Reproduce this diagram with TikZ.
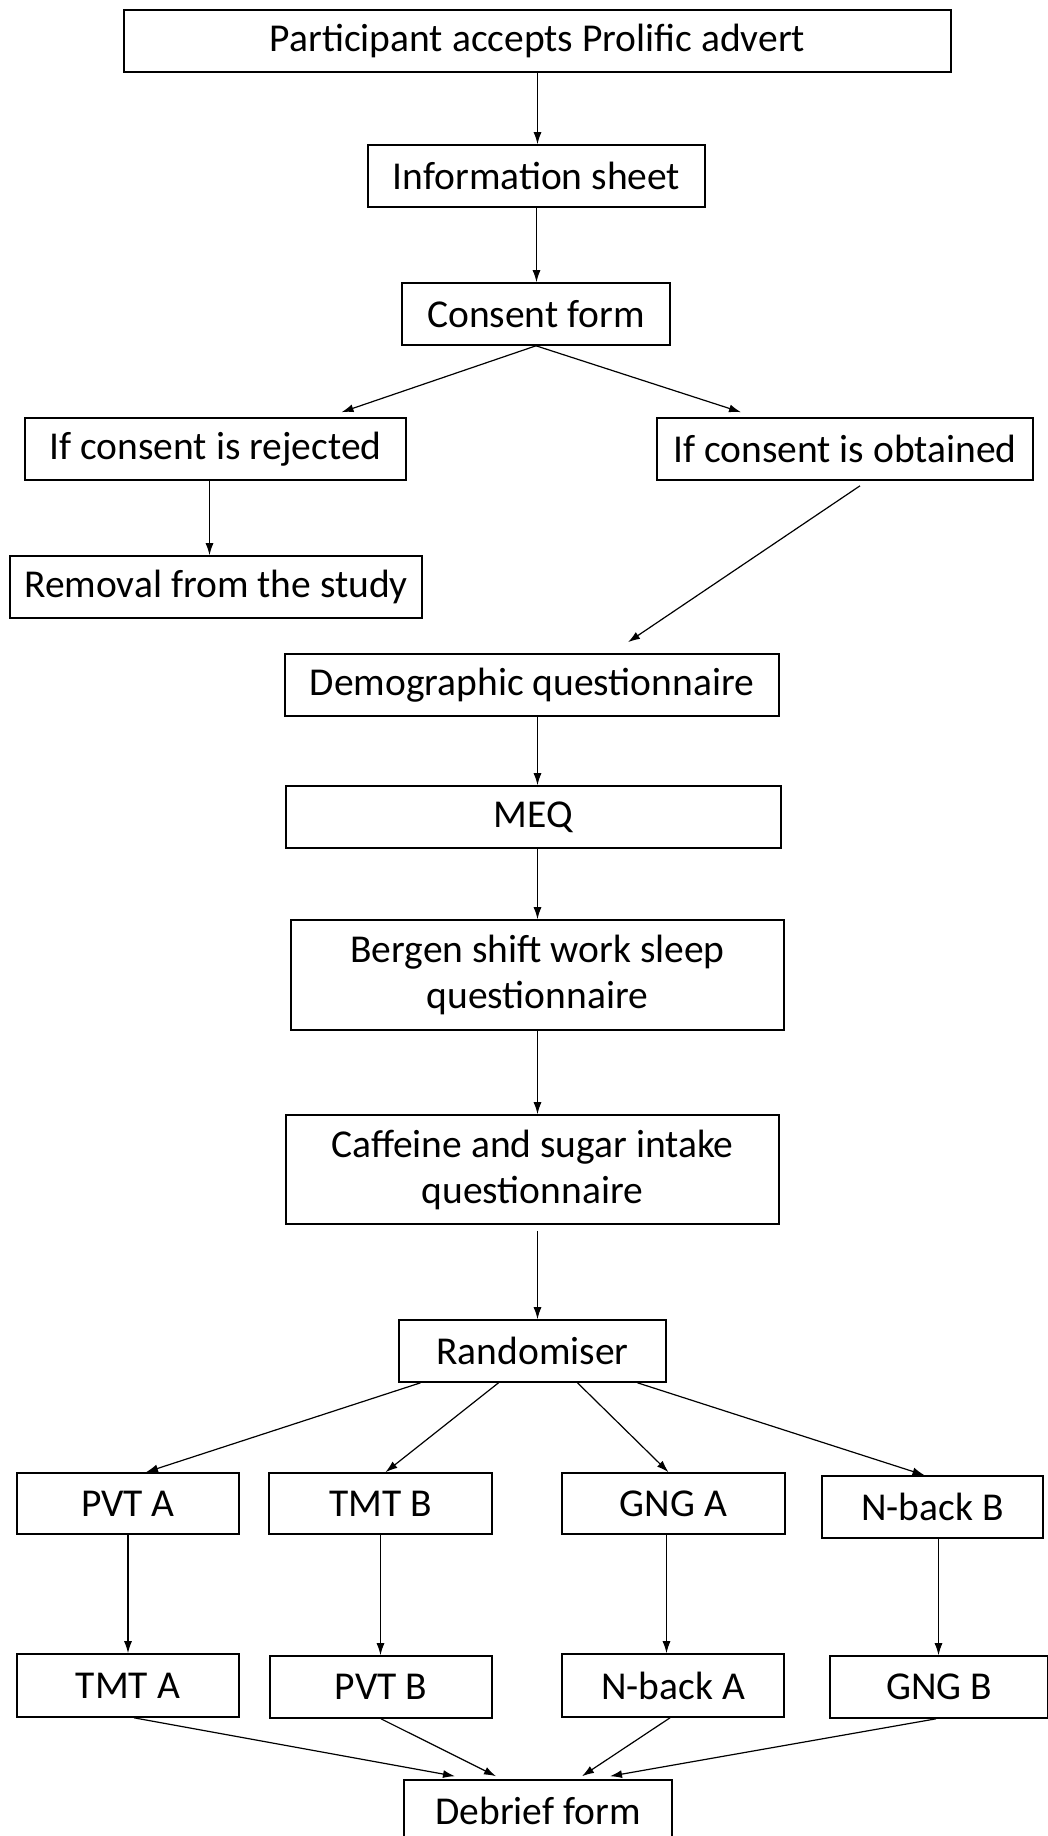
\documentclass[tikz,border=0pt]{standalone}
\usepackage{fontspec}
\setmainfont{Carlito}
\usetikzlibrary{arrows.meta}

\begin{document}
\begin{tikzpicture}[x=1pt, y=-1pt, >={Latex[length=12pt,width=8pt]},
  every node/.style={font=\fontsize{39.5}{46}\selectfont},
  box/.style={draw, line width=1.6pt, inner sep=0pt, align=center, minimum height=62pt},
  link/.style={->, line width=1.2pt}]
  \useasboundingbox (0,0) rectangle (1048,1836);
  \clip (0,0) rectangle (1048,1836);

  % gora
  \node[box, minimum width=827pt] (advert) at (537.5,41) {Participant accepts Prolific advert};
  \node[box, minimum width=337pt] (info) at (536.5,176) {Information sheet};
  \node[box, minimum width=268pt] (consent) at (536,314) {Consent form};
  \node[box, minimum width=381pt] (rejected) at (215.5,449) {If consent is rejected};
  \node[box, minimum width=376pt] (obtained) at (845,449) {If consent is obtained};
  \node[box, minimum width=412pt] (removal) at (216,587) {Removal from the study};

  % kwestionariusze
  \node[box, minimum width=494pt] (demographic) at (532,685) {Demographic questionnaire};
  \node[box, minimum width=495pt] (meq) at (533.5,817) {MEQ};
  \node[box, minimum width=493pt, minimum height=110pt] (bergen) at (537.5,975) {Bergen shift work sleep\\questionnaire};
  \node[box, minimum width=493pt, minimum height=109pt] (caffeine) at (532.5,1169.5) {Caffeine and sugar intake\\questionnaire};
  \node[box, minimum width=267pt] (randomiser) at (532.5,1351) {Randomiser};

  % testy
  \node[box, minimum width=222pt, minimum height=61pt] (pvta) at (128,1503.5) {PVT A};
  \node[box, minimum width=223pt, minimum height=61pt] (tmtb) at (380.5,1503.5) {TMT B};
  \node[box, minimum width=223pt, minimum height=61pt] (gnga) at (673.5,1503.5) {GNG A};
  \node[box, minimum width=221pt] (nbackb) at (932.5,1507) {N-back B};

  \node[box, minimum width=222pt, minimum height=63pt] (tmta) at (128,1685.5) {TMT A};
  \node[box, minimum width=222pt] (pvtb) at (381,1687) {PVT B};
  \node[box, minimum width=222pt, minimum height=63pt] (nbacka) at (673,1685.5) {N-back A};
  \node[box, minimum width=218pt] (gngb) at (939,1687) {GNG B};

  \node[box, minimum width=268pt] (debrief) at (538,1811) {Debrief form};

  \draw[link] (advert.south) -- (advert.south |- info.north);
  \draw[link] (info.south) -- (info.south |- consent.north);
  \draw[link] (consent.south) -- ([xshift=126pt,yshift=5pt]rejected.north);
  \draw[link] (consent.south) -- ([xshift=-104pt,yshift=5pt]obtained.north);
  \draw[link] ([xshift=-6pt]rejected.south) -- ([xshift=-6pt]rejected.south |- removal.north);
  \draw[link] ([xshift=15pt,yshift=-5pt]obtained.south) -- ([xshift=96pt,yshift=11pt]demographic.north);

  \draw[link] (advert.south |- demographic.south) -- (advert.south |- meq.north);
  \draw[link] (advert.south |- meq.south) -- (advert.south |- bergen.north);
  \draw[link] (bergen.south) -- (bergen.south |- caffeine.north);
  \draw[link] ([yshift=-6pt]bergen.south |- caffeine.south) -- (bergen.south |- randomiser.north);

  \draw[link] ([xshift=-112pt]randomiser.south) -- ([xshift=18pt]pvta.north);
  \draw[link] ([xshift=-34pt]randomiser.south) -- ([xshift=5pt]tmtb.north);
  \draw[link] ([xshift=45pt]randomiser.south) -- ([xshift=-5pt]gnga.north);
  \draw[link] ([xshift=105pt]randomiser.south) -- ([xshift=-8pt]nbackb.north);

  \draw[link] (pvta.south) -- (pvta.south |- tmta.north);
  \draw[link] (tmtb.south) -- (tmtb.south |- pvtb.north);
  \draw[link] ([xshift=-7pt]gnga.south) -- ([xshift=-7pt]gnga.south |- nbacka.north);
  \draw[link] ([xshift=6pt]nbackb.south) -- ([xshift=6pt]nbackb.south |- gngb.north);

  \draw[link] ([xshift=6pt]tmta.south) -- ([xshift=-83pt,yshift=3pt]debrief.north);
  \draw[link] (pvtb.south) -- ([xshift=-42pt,yshift=3pt]debrief.north);
  \draw[link] ([xshift=-3pt]nbacka.south) -- ([xshift=44pt,yshift=3pt]debrief.north);
  \draw[link] ([xshift=-3pt]gngb.south) -- ([xshift=72pt,yshift=3pt]debrief.north);
\end{tikzpicture}
\end{document}
